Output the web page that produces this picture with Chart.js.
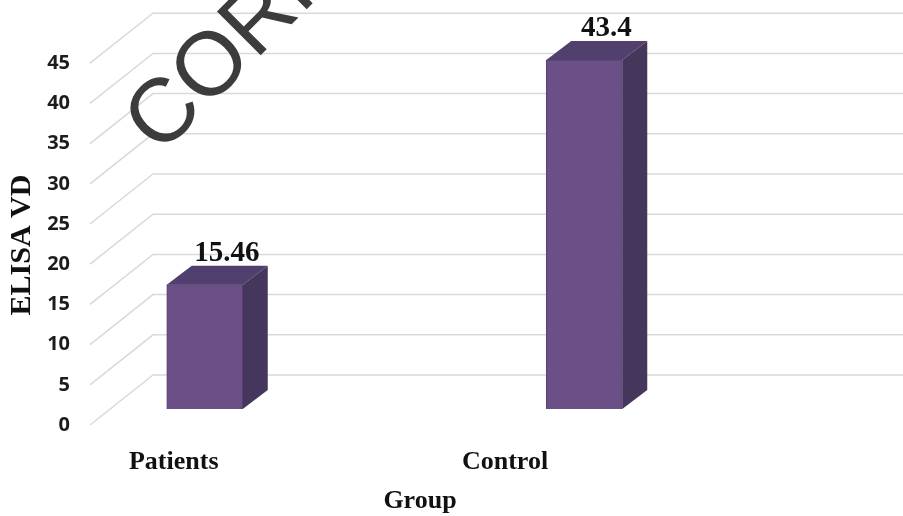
<!DOCTYPE html>
<html>
<head>
<meta charset="utf-8">
<script src="https://cdn.jsdelivr.net/npm/chart.js@4/dist/chart.umd.min.js"></script>
<style>
  html, body { margin: 0; padding: 0; background: #ffffff; }
  #wrap { width: 903px; height: 516px; }
</style>
</head>
<body>
<div id="wrap"><canvas id="c" width="903" height="516"></canvas></div>
<script>
// Groups and their mean ELISA VD values
const groups = ['Patients', 'Control'];
const elisaVD = [15.46, 43.4];
// Value axis ticks
const yTicks = [0, 5, 10, 15, 20, 25, 30, 35, 40, 45];
const yMax = 50;

// 3D look: floor front/back edges and bar depth
const floor = { frontX: 90, backX: 153, frontDY: 16, backDY: -34 };
const barDepth = { dx: 25, dy: -19 };

const colors = {
  front: '#6b5088',
  frontEdge: '#5a4276',
  top: '#51406d',
  side: '#45365c',
  grid: '#d9d9d9',
  text: '#111111',
  tick: '#1c1c1c',
  mark: '#3c3c3c'
};

const serifBold = (px) => 'bold ' + px + 'px "Liberation Serif", "Times New Roman", serif';

const threeD = {
  id: 'threeD',
  beforeDatasetsDraw(chart) {
    const { ctx } = chart;
    const y = chart.scales.y;
    ctx.save();
    ctx.strokeStyle = colors.grid;
    ctx.lineWidth = 1.5;
    yTicks.forEach(v => {
      const py = y.getPixelForValue(v);
      ctx.beginPath();
      ctx.moveTo(floor.frontX, py + floor.frontDY);
      ctx.lineTo(floor.backX, py + floor.backDY);
      ctx.lineTo(chart.width, py + floor.backDY);
      ctx.stroke();
    });
    ctx.restore();
  },
  afterDatasetsDraw(chart) {
    const { ctx } = chart;
    const y = chart.scales.y;
    const x = chart.scales.x;
    const base = y.getPixelForValue(0);
    const meta = chart.getDatasetMeta(0);
    ctx.save();
    meta.data.forEach((bar, i) => {
      const half = bar.width / 2;
      const x0 = bar.x - half, x1 = bar.x + half, top = bar.y;
      const { dx, dy } = barDepth;
      // top face
      ctx.fillStyle = colors.top;
      ctx.beginPath();
      ctx.moveTo(x0, top);
      ctx.lineTo(x1, top);
      ctx.lineTo(x1 + dx, top + dy);
      ctx.lineTo(x0 + dx, top + dy);
      ctx.closePath();
      ctx.fill();
      // side face
      ctx.fillStyle = colors.side;
      ctx.beginPath();
      ctx.moveTo(x1, top);
      ctx.lineTo(x1 + dx, top + dy);
      ctx.lineTo(x1 + dx, base + dy);
      ctx.lineTo(x1, base);
      ctx.closePath();
      ctx.fill();
      // value label above the bar
      ctx.fillStyle = colors.text;
      ctx.font = serifBold(29);
      ctx.textAlign = 'center';
      ctx.textBaseline = 'alphabetic';
      ctx.fillText(String(elisaVD[i]), bar.x + 22, top + dy - 5);
    });

    // value-axis tick labels on the front edge of the floor
    ctx.fillStyle = colors.tick;
    ctx.font = 'bold 20px "Open Sans", "DejaVu Sans", sans-serif';
    ctx.textAlign = 'right';
    ctx.textBaseline = 'middle';
    yTicks.forEach(v => {
      ctx.fillText(String(v), 70, y.getPixelForValue(v) + floor.frontDY);
    });

    // category labels along the front of the floor
    ctx.fillStyle = colors.text;
    ctx.font = serifBold(26);
    ctx.textAlign = 'center';
    ctx.textBaseline = 'middle';
    groups.forEach((g, i) => {
      const cx = x.getPixelForValue(i);
      ctx.fillText(g, 0.873 * cx - 5, 462);
    });

    // axis titles
    ctx.fillText('Group', 420, 501);
    ctx.save();
    ctx.translate(22, 245);
    ctx.rotate(-Math.PI / 2);
    ctx.font = serifBold(30);
    ctx.fillText('ELISA VD', 0, 0);
    ctx.restore();

    // proof stamp
    ctx.save();
    ctx.translate(160, 156);
    ctx.rotate(-Math.PI / 4);
    ctx.fillStyle = colors.mark;
    ctx.font = '90px "Liberation Sans", Arial, sans-serif';
    ctx.textAlign = 'left';
    ctx.textBaseline = 'alphabetic';
    ctx.fillText('CORRECTED PROOF', 0, 0);
    ctx.restore();

    ctx.restore();
  }
};

new Chart(document.getElementById('c'), {
  type: 'bar',
  data: {
    labels: groups,
    datasets: [{
      label: 'ELISA VD',
      data: elisaVD,
      backgroundColor: colors.front,
      borderColor: colors.frontEdge,
      borderWidth: 1,
      barThickness: 76
    }]
  },
  options: {
    responsive: false,
    animation: false,
    layout: { padding: { left: 15, right: 129, top: 7, bottom: 107 } },
    plugins: { legend: { display: false }, tooltip: { enabled: false } },
    scales: {
      x: { display: false, offset: true },
      y: { display: false, min: 0, max: yMax }
    }
  },
  plugins: [threeD]
});
</script>
</body>
</html>
